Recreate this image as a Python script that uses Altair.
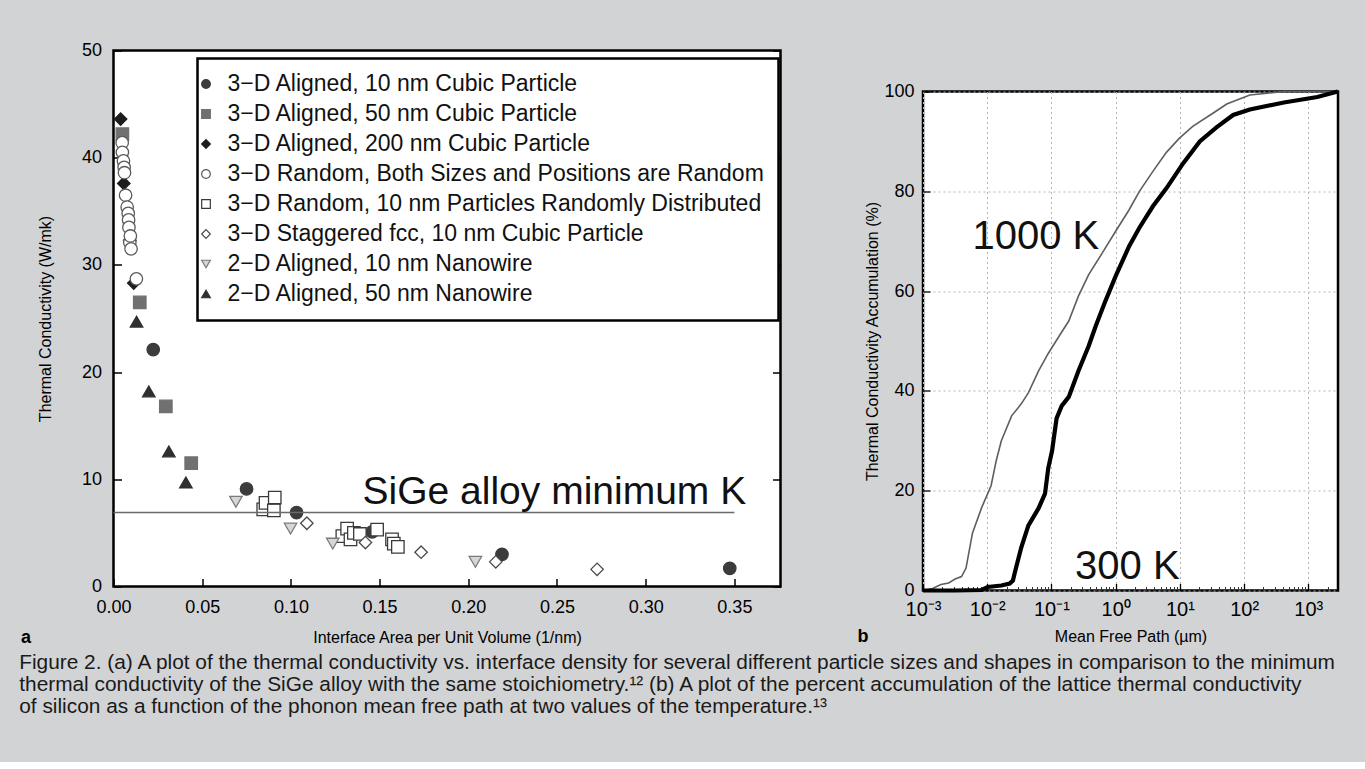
import altair as alt
import pandas as pd

# ---------------- Panel a : thermal conductivity vs interface density ----------------
series_names = [
    "3\u2212D Aligned, 10 nm Cubic Particle",
    "3\u2212D Aligned, 50 nm Cubic Particle",
    "3\u2212D Aligned, 200 nm Cubic Particle",
    "3\u2212D Random, Both Sizes and Positions are Random",
    "3\u2212D Random, 10 nm Particles Randomly Distributed",
    "3\u2212D Staggered fcc, 10 nm Cubic Particle",
    "2\u2212D Aligned, 10 nm Nanowire",
    "2\u2212D Aligned, 50 nm Nanowire",
]
shapes = ["circle", "square", "diamond", "circle", "square", "diamond", "triangle-down", "triangle-up"]
fills = ["#3c3c3c", "#707070", "#1c1c1c", "#ffffff", "#ffffff", "#ffffff", "#d6d6d6", "#2f2f2f"]
strokes = ["#3c3c3c", "#707070", "#1c1c1c", "#5a5a5a", "#3a3a3a", "#4a4a4a", "#7a7a7a", "#2f2f2f"]

s1_x = [0.0224, 0.075, 0.1032, 0.1458, 0.219, 0.3474]
s1_y = [22.1, 9.1, 6.9, 5.1, 3.0, 1.7]
s2_x = [0.005, 0.0148, 0.0295, 0.0438]
s2_y = [42.2, 26.5, 16.8, 11.5]
s3_x = [0.004, 0.0058, 0.0092, 0.0114]
s3_y = [43.6, 37.6, 32.3, 28.3]
s4_x = [0.0049, 0.005, 0.0056, 0.006, 0.0062, 0.0068, 0.0077, 0.0083, 0.0085, 0.0087, 0.0092, 0.0095, 0.0099, 0.0129]
s4_y = [41.4, 40.5, 39.7, 39.1, 38.6, 36.5, 35.4, 34.8, 34.2, 33.5, 32.1, 32.7, 31.5, 28.7]
s5_x = [0.0844, 0.0857, 0.0904, 0.0909, 0.129, 0.1317, 0.1336, 0.1355, 0.1389, 0.1486, 0.157, 0.158, 0.1603]
s5_y = [7.2, 7.8, 7.1, 8.3, 4.7, 5.4, 4.4, 5.0, 4.9, 5.3, 4.4, 4.0, 3.7]
s6_x = [0.109, 0.142, 0.1734, 0.2155, 0.2726]
s6_y = [5.9, 4.1, 3.2, 2.3, 1.6]
s7_x = [0.069, 0.0998, 0.1236, 0.204]
s7_y = [7.9, 5.4, 4.0, 2.3]
s8_x = [0.013, 0.0199, 0.0312, 0.0408]
s8_y = [24.7, 18.2, 12.6, 9.7]

sige_level = [6.9]
sige_x0 = [0.0]
sige_x1 = [0.35]
sige_label = ["SiGe alloy minimum K"]
sige_label_x = [0.1404]
sige_label_y = [7.7]

xa_ticks = [0.0, 0.05, 0.10, 0.15, 0.20, 0.25, 0.30, 0.35]
ya_ticks = [0, 10, 20, 30, 40, 50]

# ---------------- Panel b : accumulation vs mean free path ----------------
mfp_1000 = [0.001, 0.001413, 0.001905, 0.002512, 0.003162, 0.003981, 0.004677, 0.005888, 0.008128,
            0.01148, 0.0138, 0.0166, 0.02399, 0.03388, 0.04365, 0.0631, 0.08913, 0.1445, 0.1862,
            0.263, 0.3802, 0.6166, 1.0, 1.622, 2.344, 3.802, 6.166, 9.772, 15.85, 33.11, 53.7,
            123.0, 416.9, 2884.0]
acc_1000 = [0, 0.4, 1.2, 1.5, 2.3, 2.8, 4.5, 11.5, 16.5, 21, 26, 30, 35, 37.4, 39.6, 44, 47.5,
            51.8, 54, 59, 63.3, 67.6, 72, 76.3, 80, 84, 87.8, 90.6, 93, 95.7, 97.5, 99.3, 100, 100]
mfp_300 = [0.001, 0.003162, 0.008128, 0.01023, 0.0166, 0.02239, 0.02512, 0.02692, 0.03388,
           0.04365, 0.0631, 0.07943, 0.08913, 0.1023, 0.1202, 0.1445, 0.1862, 0.263, 0.3802,
           0.4898, 0.6918, 1.0, 1.622, 2.344, 3.802, 6.166, 11.22, 20.42, 37.15, 67.61, 123.0,
           416.9, 1380.0, 2884.0]
acc_300 = [0, 0, 0.1, 0.7, 1.0, 1.4, 2.0, 3.6, 8.6, 13, 16.5, 19.4, 24.5, 28, 34.5, 37, 38.8, 44,
           49, 53, 58, 63, 69, 72.7, 77, 80.6, 85.6, 90, 92.8, 95.3, 96.4, 97.8, 98.9, 100]

temp_labels = ["1000 K", "300 K"]
temp_label_x = [0.0059, 0.233]
temp_label_y = [68.4, 2.4]

xb_ticks = [0.001, 0.01, 0.1, 1, 10, 100, 1000]
xb_tick_text = ["10\u207b\u00b3", "10\u207b\u00b2", "10\u207b\u00b9", "10\u2070", "10\u00b9", "10\u00b2", "10\u00b3"]
xb_minor = [k * d for d in [0.001, 0.01, 0.1, 1, 10, 100, 1000] for k in range(2, 10) if k * d <= 2900]
yb_ticks = [0, 20, 40, 60, 80, 100]

caption = [
    "Figure 2. (a) A plot of the thermal conductivity vs. interface density for several different particle sizes and shapes in comparison to the minimum",
    "thermal conductivity of the SiGe alloy with the same stoichiometry.\u00b9\u00b2 (b) A plot of the percent accumulation of the lattice thermal conductivity",
    "of silicon as a function of the phonon mean free path at two values of the temperature.\u00b9\u00b3",
]

REG = "Liberation Sans, Arial, Helvetica"
BG = "#d2d3d5"

# ---------------- build tables ----------------
rows = []
for name, xs, ys in zip(series_names,
                        [s1_x, s2_x, s3_x, s4_x, s5_x, s6_x, s7_x, s8_x],
                        [s1_y, s2_y, s3_y, s4_y, s5_y, s6_y, s7_y, s8_y]):
    for xv, yv in zip(xs, ys):
        rows.append({"series": name, "x": xv, "y": yv})
dfa = pd.DataFrame(rows)
df_sige = pd.DataFrame({"x0": sige_x0, "x1": sige_x1, "y": sige_level})
df_sige_text = pd.DataFrame({"x": sige_label_x, "y": sige_label_y, "t": sige_label})

df_1000 = pd.DataFrame({"mfp": mfp_1000, "acc": acc_1000})
df_300 = pd.DataFrame({"mfp": mfp_300, "acc": acc_300})
df_b_text = pd.DataFrame({"x": temp_label_x, "y": temp_label_y, "t": temp_labels})

# ---------------- panel a ----------------
xa = alt.Scale(domain=[0, 0.376], nice=False, zero=False)
ya = alt.Scale(domain=[0, 50], nice=False, zero=False)

legend = alt.Legend(
    orient="none", legendX=84, legendY=8, title=None, strokeColor="black", fillColor="white",
    padding=14, rowPadding=6, labelFontSize=23, labelFont=REG, labelColor="#111111",
    labelLimit=900, symbolSize=75, symbolStrokeWidth=1.2,
    labelOffset=10, symbolOffset=alt.ExprRef(expr="-17"),
)

pts = alt.Chart(dfa).mark_point(filled=True, opacity=1, size=155, strokeWidth=1.3).encode(
    x=alt.X("x:Q", scale=xa, axis=alt.Axis(
        orient="bottom", values=xa_ticks, format=".2f", ticks=False, tickSize=0, domain=False,
        grid=False, labelFontSize=18, labelPadding=12, labelFont=REG, labelFlush=False,
        title="Interface Area per Unit Volume (1/nm)", titleFontSize=16, titleFont=REG,
        titlePadding=13, titleFontWeight="normal")),
    y=alt.Y("y:Q", scale=ya, axis=alt.Axis(
        orient="left", values=ya_ticks, ticks=False, tickSize=0, domain=False, grid=False,
        labelFontSize=18, labelPadding=12, labelFont=REG, labelFlush=False,
        title="Thermal Conductivity (W/mk)", titleFontSize=16, titleFont=REG,
        titlePadding=28, titleFontWeight="normal")),
    shape=alt.Shape("series:N", scale=alt.Scale(domain=series_names, range=shapes), legend=legend),
    fill=alt.Fill("series:N", scale=alt.Scale(domain=series_names, range=fills), legend=legend),
    stroke=alt.Stroke("series:N", scale=alt.Scale(domain=series_names, range=strokes), legend=legend),
)

sige_rule = alt.Chart(df_sige).mark_rule(color="#6a6a6a", strokeWidth=1.6).encode(
    x=alt.X("x0:Q", scale=xa, axis=alt.Axis(
        orient="bottom", offset=-8, values=xa_ticks, labels=False, domain=False, grid=False,
        tickSize=8, tickWidth=1.5, tickColor="black", title=None)),
    x2="x1:Q",
    y=alt.Y("y:Q", scale=ya, axis=alt.Axis(
        orient="left", offset=-8, values=ya_ticks, labels=False, domain=False, grid=False,
        tickSize=8, tickWidth=1.5, tickColor="black", title=None)),
)

sige_text = alt.Chart(df_sige_text).mark_text(
    align="left", baseline="alphabetic", fontSize=39, font=REG, color="#111111"
).encode(
    x=alt.X("x:Q", scale=xa, axis=alt.Axis(
        orient="bottom", labels=False, ticks=False, domain=False, grid=False,
        title="a", titleX=-93, titleY=51, titleAlign="left", titleBaseline="middle",
        titleFontWeight="bold", titleFontSize=18, titleFont=REG)),
    y=alt.Y("y:Q", scale=ya, axis=alt.Axis(
        orient="right", offset=-8, values=ya_ticks, labels=False, domain=False, grid=False,
        tickSize=8, tickWidth=1.5, tickColor="black", title=None)),
    text="t:N",
)

left = alt.layer(pts, sige_rule, sige_text).resolve_axis(x="independent", y="independent").properties(
    width=667, height=536
)

# ---------------- panel b ----------------
xb = alt.Scale(type="log", domain=[0.001, 2900], nice=False)
yb = alt.Scale(domain=[0, 100], nice=False, zero=False)
label_expr = "[" + ",".join("'%s'" % t for t in xb_tick_text) + "][round(log(datum.value)/LN10)+3]"

line_1000 = alt.Chart(df_1000).mark_line(color="#5e5e5e", strokeWidth=1.6).encode(
    x=alt.X("mfp:Q", scale=xb, axis=alt.Axis(
        orient="bottom", values=xb_ticks, labelExpr=label_expr, ticks=False, tickSize=0,
        domain=False, grid=True, gridDash=[2, 3], gridColor="#b5b5b5", gridWidth=1,
        labelFontSize=20, labelPadding=9, labelFont=REG, labelFlush=False,
        title="Mean Free Path (\u00b5m)", titleFontSize=16, titleFont=REG,
        titlePadding=9, titleFontWeight="normal")),
    y=alt.Y("acc:Q", scale=yb, axis=alt.Axis(
        orient="left", values=yb_ticks, ticks=False, tickSize=0, domain=False, grid=True,
        gridDash=[2, 3], gridColor="#b5b5b5", gridWidth=1,
        labelFontSize=18, labelPadding=9, labelFont=REG, labelFlush=False,
        title="Thermal Conductivity Accumulation (%)", titleFontSize=16, titleFont=REG,
        titlePadding=3, titleFontWeight="normal")),
)

line_300 = alt.Chart(df_300).mark_line(color="#000000", strokeWidth=4.2).encode(
    x=alt.X("mfp:Q", scale=xb, axis=alt.Axis(
        orient="bottom", offset=-7, values=xb_ticks, labels=False, domain=False, grid=False,
        tickSize=7, tickWidth=1.3, tickColor="black", title=None)),
    y=alt.Y("acc:Q", scale=yb, axis=alt.Axis(
        orient="left", offset=-7, values=yb_ticks, labels=False, domain=False, grid=False,
        tickSize=7, tickWidth=1.3, tickColor="black", title=None)),
)

temp_text = alt.Chart(df_b_text).mark_text(
    align="left", baseline="alphabetic", fontSize=40, font=REG, color="#111111"
).encode(
    x=alt.X("x:Q", scale=xb, axis=alt.Axis(
        orient="bottom", offset=-4, values=xb_minor, labels=False, domain=False, grid=False,
        tickSize=4, tickWidth=1, tickColor="#333333",
        title="b", titleX=-66, titleY=50, titleAlign="left", titleBaseline="middle",
        titleFontWeight="bold", titleFontSize=18, titleFont=REG)),
    y=alt.Y("y:Q", scale=yb, axis=None),
    text="t:N",
)

right = alt.layer(line_1000, line_300, temp_text).resolve_axis(x="independent", y="independent").properties(
    width=415, height=499
)

# invisible spacer that lowers panel b relative to panel a
spacer = alt.Chart(pd.DataFrame({"v": [0]})).mark_point(opacity=0).encode(
    x=alt.X("v:Q", axis=None), y=alt.Y("v:Q", axis=None)
).properties(width=415, height=30, view=alt.ViewBackground(stroke=None, fill=None))

right_col = alt.vconcat(spacer, right, spacing=0)

chart = alt.hconcat(left, right_col, spacing=72.5).properties(
    padding={"left": 18.5, "top": 39.5, "right": 17, "bottom": 44},
    title=alt.TitleParams(caption, orient="bottom", anchor="start", fontSize=20.85, lineHeight=22,
                          font=REG, fontWeight="normal", color="#1a1a1a", offset=5.5),
).configure(
    background=BG,
).configure_view(
    stroke="black", strokeWidth=2.5, fill="white",
).configure_axis(
    labelColor="black", titleColor="black",
).configure_legend(
    strokeWidth=2.5,
)

chart.save("out.html", embed_options={"renderer": "svg", "actions": False})
